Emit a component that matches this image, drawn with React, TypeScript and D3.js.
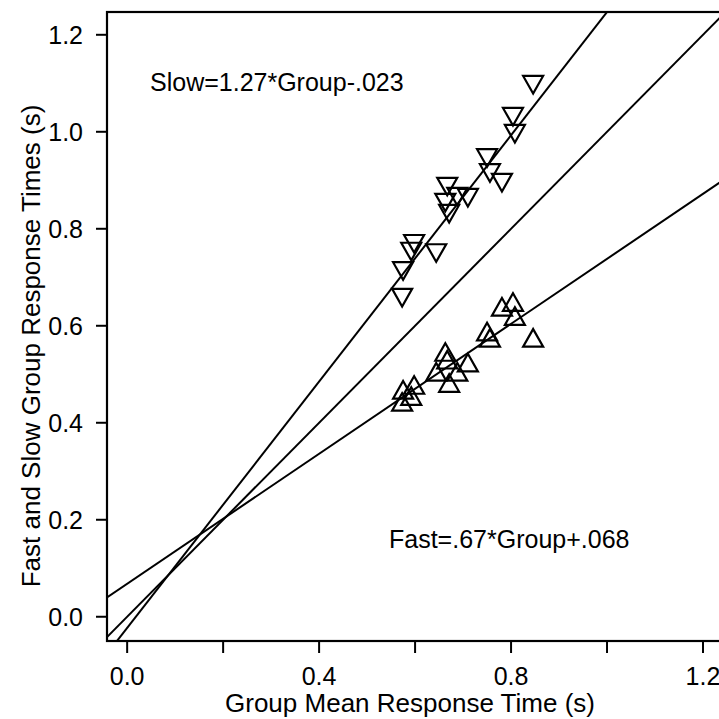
import React from "react";
import * as d3 from "d3";

const groupMean = [0.846, 0.804, 0.808, 0.781, 0.750, 0.756, 0.667, 0.663, 0.671, 0.688, 0.710, 0.644, 0.598, 0.592, 0.575, 0.573];
const slowRT = [1.097, 1.031, 0.996, 0.895, 0.946, 0.915, 0.887, 0.854, 0.831, 0.866, 0.864, 0.750, 0.769, 0.753, 0.713, 0.658];
const fastRT = [0.575, 0.649, 0.620, 0.639, 0.588, 0.575, 0.530, 0.546, 0.482, 0.505, 0.524, 0.505, 0.478, 0.455, 0.468, 0.443];

const fits = [
  { slope: 1.27, intercept: -0.023 },
  { slope: 1.0, intercept: 0.0 },
  { slope: 0.67, intercept: 0.068 },
];

const xTicks = [0, 0.2, 0.4, 0.6, 0.8, 1.0, 1.2];
const xTickLabels = ["0.0", "", "0.4", "", "0.8", "", "1.2"];
const yTicks = [0, 0.2, 0.4, 0.6, 0.8, 1.0, 1.2];
const yTickLabels = ["0.0", "0.2", "0.4", "0.6", "0.8", "1.0", "1.2"];

const slowLabel = "Slow=1.27*Group-.023";
const fastLabel = "Fast=.67*Group+.068";
const xTitle = "Group Mean Response Time (s)";
const yTitle = "Fast and Slow Group Response Times (s)";

const W = 719, H = 719;
const L = 107, R = 727, T = 12, B = 641;
const FONT = "'Liberation Sans', Arial, Helvetica, sans-serif";

export default function App() {
  const x = d3.scaleLinear().domain([-0.042, 1.25]).range([L, R]);
  const y = d3.scaleLinear().domain([-0.05, 1.247]).range([B, T]);
  const line = d3.line<[number, number]>().x(d => x(d[0])).y(d => y(d[1]));
  const xd = x.domain();
  const tw = 10, th = 8.8;
  const down = (cx: number, cy: number) => `M${cx - tw},${cy - th}L${cx + tw},${cy - th}L${cx},${cy + th}Z`;
  const up = (cx: number, cy: number) => `M${cx - tw},${cy + th}L${cx + tw},${cy + th}L${cx},${cy - th}Z`;
  return (
    <svg width={W} height={H} style={{ position: "absolute", left: 0, top: 0, background: "#fff" }} fontFamily={FONT}>
      <defs>
        <clipPath id="plot"><rect x={L} y={T} width={R - L} height={B - T} /></clipPath>
      </defs>
      <g clipPath="url(#plot)" fill="none" stroke="#000" strokeWidth={2}>
        {fits.map((f, i) => (
          <path key={i} d={line([[xd[0], f.slope * xd[0] + f.intercept], [xd[1], f.slope * xd[1] + f.intercept]]) || ""} />
        ))}
        {groupMean.map((g, i) => <path key={"s" + i} d={down(x(g), y(slowRT[i]))} strokeWidth={2.2} />)}
        {groupMean.map((g, i) => <path key={"f" + i} d={up(x(g), y(fastRT[i]))} strokeWidth={2.2} />)}
      </g>
      <rect x={L} y={T} width={R - L} height={B - T} fill="none" stroke="#000" strokeWidth={2.2} />
      {xTicks.map((t, i) => (
        <g key={"xt" + i}>
          <line x1={x(t)} x2={x(t)} y1={B} y2={B + 12} stroke="#000" strokeWidth={2} />
          <text x={x(t)} y={685} fontSize={25} textAnchor="middle">{xTickLabels[i]}</text>
        </g>
      ))}
      {yTicks.map((t, i) => (
        <g key={"yt" + i}>
          <line x1={L - 11} x2={L} y1={y(t)} y2={y(t)} stroke="#000" strokeWidth={2} />
          <text x={83} y={y(t) + 9} fontSize={25} textAnchor="end">{yTickLabels[i]}</text>
        </g>
      ))}
      <text x={150} y={91} fontSize={25}>{slowLabel}</text>
      <text x={389} y={548} fontSize={25}>{fastLabel}</text>
      <text x={410} y={712} fontSize={26} textAnchor="middle">{xTitle}</text>
      <text transform={`translate(40,${346}) rotate(-90)`} fontSize={26} textAnchor="middle">{yTitle}</text>
    </svg>
  );
}
